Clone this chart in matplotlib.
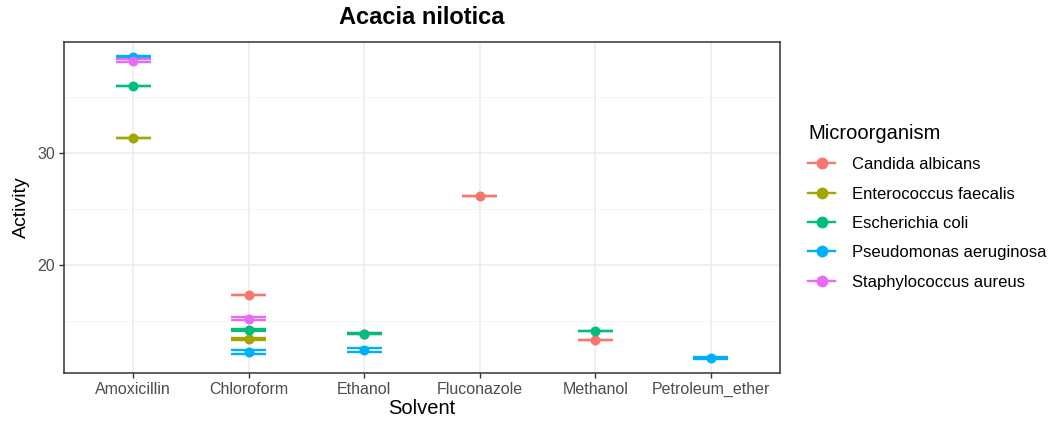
import numpy as np
import matplotlib.pyplot as plt
from matplotlib.lines import Line2D

plt.rcParams['font.family'] = ['Liberation Sans', 'DejaVu Sans']

nan = np.nan
solvents = ['Amoxicillin', 'Chloroform', 'Ethanol', 'Fluconazole', 'Methanol', 'Petroleum_ether']
organisms = ['Candida albicans', 'Enterococcus faecalis', 'Escherichia coli',
             'Pseudomonas aeruginosa', 'Staphylococcus aureus']
colors = ['#F8766D', '#A3A500', '#00BF7D', '#00B0F6', '#E76BF3']

# mean activity per solvent (nan = not tested)
candida = [nan, 17.3, 13.85, 26.15, 13.35, nan]
enterococcus = [31.3, 13.4, nan, nan, nan, nan]
ecoli = [36.0, 14.2, 13.85, nan, 14.15, nan]
pseudomonas = [38.6, 12.2, 12.4, nan, nan, 11.7]
staph = [38.25, 15.2, nan, nan, nan, nan]

# standard deviations
candida_sd = [nan, 0.0, 0.05, 0.0, 0.0, nan]
enterococcus_sd = [0.0, 0.05, nan, nan, nan, nan]
ecoli_sd = [0.0, 0.12, 0.05, nan, 0.0, nan]
pseudomonas_sd = [0.1, 0.18, 0.15, nan, nan, 0.12]
staph_sd = [0.1, 0.15, nan, nan, nan, nan]

means = [candida, enterococcus, ecoli, pseudomonas, staph]
sds = [candida_sd, enterococcus_sd, ecoli_sd, pseudomonas_sd, staph_sd]

fig = plt.figure(figsize=(10.51, 4.21), dpi=100)
ax = fig.add_axes([0.0609, 0.114, 0.6813, 0.786])

x = np.arange(len(solvents))
half = 0.15

# error bars first, points on top
for m, s, c in zip(means, sds, colors):
    m = np.array(m)
    s = np.array(s)
    ok = ~np.isnan(m)
    xs, ms, ss = x[ok], m[ok], s[ok]
    ax.hlines(ms + ss, xs - half, xs + half, color=c, lw=1.7, zorder=2)
    ax.hlines(ms - ss, xs - half, xs + half, color=c, lw=1.7, zorder=2)
    ax.vlines(xs, ms - ss, ms + ss, color=c, lw=1.7, zorder=2)

for m, c in zip(means, colors):
    m = np.array(m)
    ok = ~np.isnan(m)
    ax.scatter(x[ok], m[ok], s=52, color=c, zorder=3, linewidths=0)

ax.set_xlim(-0.6, 5.6)
ax.set_ylim(10.36, 39.9)
ax.set_xticks(x)
ax.set_xticklabels(solvents)
ax.set_yticks([20, 30])
ax.set_yticks([15, 25, 35], minor=True)
ax.grid(True, which='major', color='#EBEBEB', lw=1.1)
ax.grid(True, which='minor', color='#F4F4F4', lw=0.6)
ax.set_axisbelow(True)
ax.tick_params(axis='both', which='major', labelsize=11.5, colors='#333333',
               labelcolor='#4D4D4D', length=3.5, width=1, pad=3)
ax.tick_params(axis='both', which='minor', length=0)
for sp in ax.spines.values():
    sp.set_color('#333333')
    sp.set_linewidth(1.1)

ax.set_xlabel('Solvent', fontsize=14.5, labelpad=1)
ax.set_ylabel('Activity', fontsize=14, labelpad=5)
ax.set_title('Acacia nilotica', fontsize=17, fontweight='bold', pad=13)

handles = [Line2D([0], [0], color=c, lw=1.7, marker='o', markersize=7.5)
           for c in colors]
leg = fig.legend(handles, organisms, title='Microorganism', loc='upper left',
                 bbox_to_anchor=(0.769, 0.7055), frameon=False, fontsize=12,
                 title_fontsize=14.5, handlelength=1.6, labelspacing=0.86,
                 handletextpad=1.0, borderaxespad=0, borderpad=0)
leg._legend_box.align = 'left'

fig.savefig('out.png', dpi=100)
